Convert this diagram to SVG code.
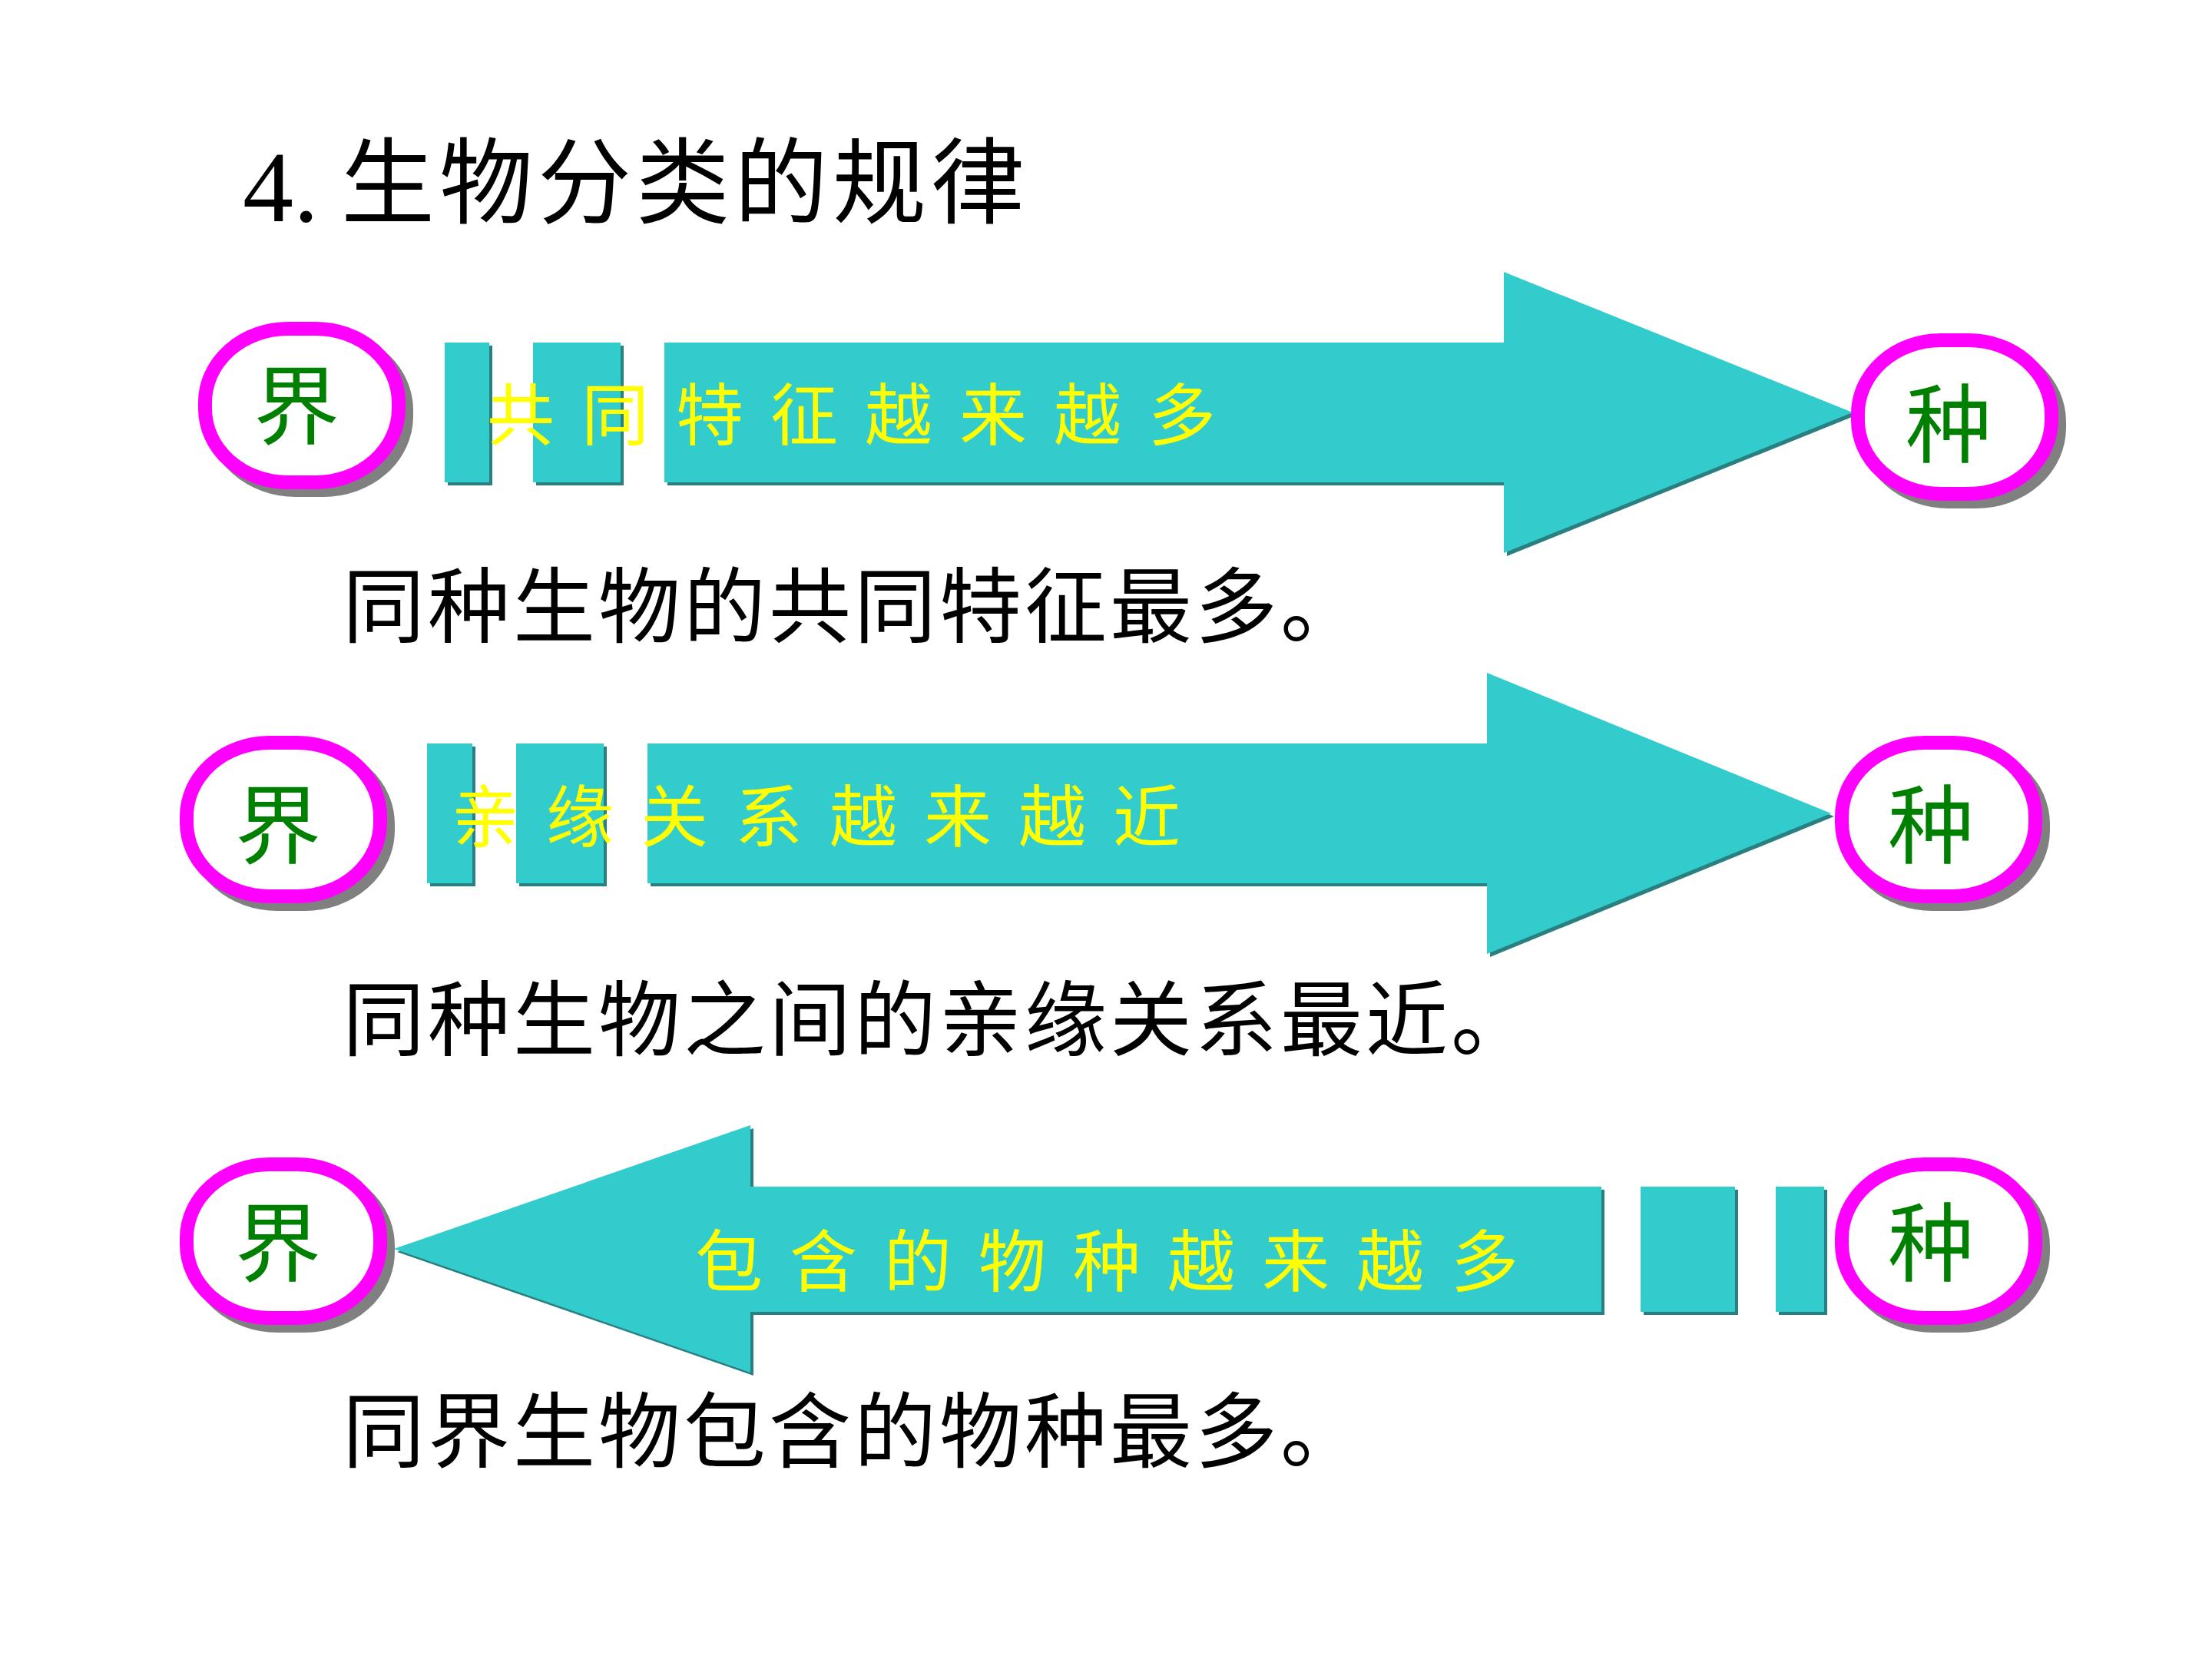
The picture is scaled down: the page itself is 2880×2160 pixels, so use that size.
<svg xmlns="http://www.w3.org/2000/svg" width="2880" height="2160" viewBox="0 0 2880 2160">
<defs>
<style>
.cjk{font-family:"Noto Sans CJK SC","Noto Sans CJK TC",sans-serif}
.title{font-size:122px;fill:#000;letter-spacing:6px}
.num{font-family:"Liberation Serif",serif;font-size:132px;fill:#000}
.cap{font-size:107px;fill:#000;letter-spacing:4px}
.lbl{font-size:88px;fill:#FFFF00;letter-spacing:35px}
.node{font-size:112px;fill:#008000;text-anchor:middle}
.ring{fill:#fff;stroke:#FF00FF;stroke-width:18}
.ringsh{fill:none;stroke:#808080;stroke-width:18}
.ar{fill:#33CCCC}
.arsh{fill:#2A7F80}
</style>
<rect id="ringShape" x="-126" y="-100" width="252" height="200" rx="108" ry="96"/>
</defs>
<rect width="2880" height="2160" fill="#fff"/>

<g id="title">
<text class="num" x="316" y="288">4.</text>
<text class="cjk title" x="444" y="281">生物分类的规律</text>
</g>

<g id="connectors">
<!-- row 1 arrow -->
<g transform="translate(4,4)" class="arsh">
<rect x="579" y="446" width="58" height="182"/>
<rect x="694" y="446" width="114" height="182"/>
<polygon points="865,446 1958,446 1958,354 2412,537 1958,720 1958,628 865,628"/>
</g>
<g class="ar">
<rect x="579" y="446" width="58" height="182"/>
<rect x="694" y="446" width="114" height="182"/>
<polygon points="865,446 1958,446 1958,354 2412,537 1958,720 1958,628 865,628"/>
</g>
<!-- row 2 arrow -->
<g transform="translate(4,4)" class="arsh">
<rect x="556" y="968" width="59" height="182"/>
<rect x="672" y="968" width="114" height="182"/>
<polygon points="843,968 1936,968 1936,876 2384,1059 1936,1242 1936,1150 843,1150"/>
</g>
<g class="ar">
<rect x="556" y="968" width="59" height="182"/>
<rect x="672" y="968" width="114" height="182"/>
<polygon points="843,968 1936,968 1936,876 2384,1059 1936,1242 1936,1150 843,1150"/>
</g>
<!-- row 3 arrow -->
<g transform="translate(4,4)" class="arsh">
<rect x="2136" y="1545" width="123" height="163"/>
<rect x="2312" y="1545" width="63" height="163"/>
<polygon points="2085,1545 977,1545 977,1465 513,1626 977,1787 977,1708 2085,1708"/>
</g>
<g class="ar">
<rect x="2136" y="1545" width="123" height="163"/>
<rect x="2312" y="1545" width="63" height="163"/>
<polygon points="2085,1545 977,1545 977,1465 513,1626 977,1787 977,1708 2085,1708"/>
</g>
</g>

<g id="labels">
<text class="cjk lbl" x="634" y="572">共同特征越来越多</text>
<text class="cjk lbl" x="588" y="1095">亲缘关系越来越近</text>
<text class="cjk lbl" x="905" y="1674">包含的物种越来越多</text>
</g>

<g id="node-jie-1">
<use href="#ringShape" class="ringsh" transform="translate(403,538)"/>
<use href="#ringShape" class="ring" transform="translate(393,528)"/>
<text class="cjk node" x="386" y="570">界</text>
</g>
<g id="node-zhong-1">
<use href="#ringShape" class="ringsh" transform="translate(2555,553)"/>
<use href="#ringShape" class="ring" transform="translate(2545,543)"/>
<text class="cjk node" x="2537" y="594">种</text>
</g>
<g id="node-jie-2">
<use href="#ringShape" class="ringsh" transform="translate(379,1077)"/>
<use href="#ringShape" class="ring" transform="translate(369,1067)"/>
<text class="cjk node" x="362" y="1116">界</text>
</g>
<g id="node-zhong-2">
<use href="#ringShape" class="ringsh" transform="translate(2534,1077)"/>
<use href="#ringShape" class="ring" transform="translate(2524,1067)"/>
<text class="cjk node" x="2514" y="1116">种</text>
</g>
<g id="node-jie-3">
<use href="#ringShape" class="ringsh" transform="translate(379,1626)"/>
<use href="#ringShape" class="ring" transform="translate(369,1616)"/>
<text class="cjk node" x="362" y="1660">界</text>
</g>
<g id="node-zhong-3">
<use href="#ringShape" class="ringsh" transform="translate(2534,1626)"/>
<use href="#ringShape" class="ring" transform="translate(2524,1616)"/>
<text class="cjk node" x="2514" y="1660">种</text>
</g>

<g id="captions">
<text class="cjk cap" x="446" y="828">同种生物的共同特征最多。</text>
<text class="cjk cap" x="446" y="1366">同种生物之间的亲缘关系最近。</text>
<text class="cjk cap" x="446" y="1902">同界生物包含的物种最多。</text>
</g>
</svg>
